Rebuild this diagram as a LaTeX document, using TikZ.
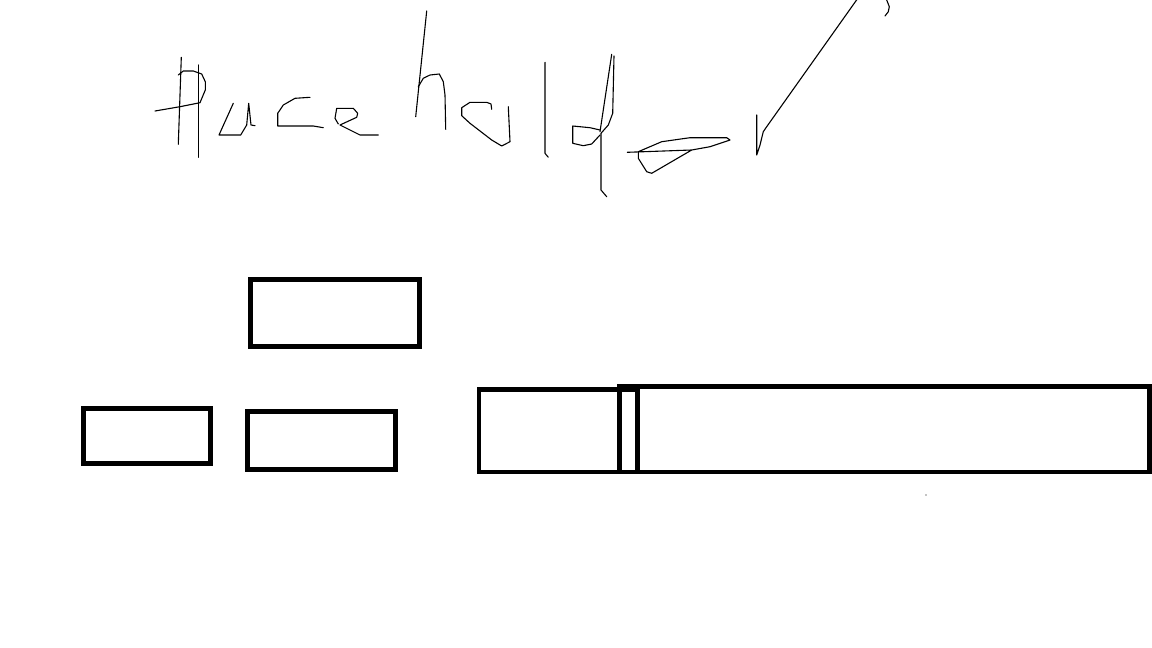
\documentclass[tikz,border=0pt]{standalone}
\begin{document}
\begin{tikzpicture}[x=1pt,y=-1pt,
  box/.style={draw=black,line width=4.7pt,inner sep=0pt,outer sep=0pt},
  pen/.style={draw=black,line width=1.1pt,line join=round,line cap=round}]
\useasboundingbox[fill=white] (0,0) rectangle (1152,648);
% boxes
\node[box,minimum width=168.7pt,minimum height=66.7pt] (b1) at (335,313) {};
\node[box,minimum width=127pt,minimum height=55pt] (b2) at (146.8,435.8) {};
\node[box,minimum width=147.6pt,minimum height=57.6pt] (b3) at (321.5,440.5) {};
\node[box,minimum width=158.7pt,minimum height=82.3pt] (b4) at (558.4,430.9) {};
\node[box,minimum width=530.1pt,minimum height=85.7pt] (b5) at (884.7,429.2) {};
\fill (926,495) circle (0.6);
% handwritten "Placeholder"
% P
\draw[pen] (181.3,57.3) -- (178.3,144.3);
\draw[pen] (198.7,65) -- (198.7,157.3);
\draw[pen] (178.3,75) -- (183.3,71) -- (193.3,71) -- (201.7,74) -- (205.3,81.7) -- (205.3,90) -- (200,102.7) -- (180,106.7) -- (155,111);
% u (l)
\draw[pen] (233.3,103.3) -- (219,135) -- (240.7,135) -- (246.7,125) -- (248.7,103.3) -- (251,125) -- (255,125.7);
% c
\draw[pen] (310,97.3) -- (295,98.3) -- (283.3,105) -- (277.7,113.3) -- (277.7,126) -- (313.3,126) -- (323.3,127.7);
% e
\draw[pen] (338.3,124) -- (335,118.3) -- (336.7,108.3) -- (353.3,108.3) -- (357.7,113.3) -- (356.7,117.3) -- (340,125) -- (360,135) -- (378.3,135);
% h
\draw[pen] (426.7,11) -- (415.7,116.7);
\draw[pen] (418.3,86.7) -- (423.3,78.3) -- (430,75) -- (439.3,74) -- (443.3,81.7) -- (445,95) -- (445.7,129.3);
% o
\draw[pen] (491.7,109.3) -- (491,104) -- (486.7,102.3) -- (470,102.3) -- (461.7,107.7) -- (461.7,115.7) -- (470,123.3) -- (491.7,140) -- (501.7,146) -- (510,141.7) -- (508.3,106.7);
% l
\draw[pen] (545,62.3) -- (545,153.3) -- (548.3,157.3);
% d
\draw[pen] (600,130) -- (590,127.7) -- (572.7,126) -- (572.7,143.3) -- (583.3,145.7) -- (591.7,144) -- (600,135);
\draw[pen] (611.7,54.3) -- (600,131.7);
\draw[pen] (614,56) -- (612.7,113.3) -- (608.3,125) -- (601,133.3) -- (601,190) -- (606.7,196.7);
% e
\draw[pen] (627.3,152.3) -- (691.7,150) -- (710,146.7) -- (730,140) -- (726.7,137.7) -- (690,137.7) -- (661.7,141.7) -- (638.3,151.7) -- (638.3,158.3) -- (646.7,171.7) -- (651.7,173.3) -- (691.7,150);
% r
\draw[pen] (756.7,115) -- (756.7,155) -- (760,145) -- (763.3,131.7) -- (766.7,126.7) -- (858,-2);
\draw[pen] (886.7,0) -- (889.3,6.7) -- (888.3,11.7) -- (885,16);
\end{tikzpicture}
\end{document}
